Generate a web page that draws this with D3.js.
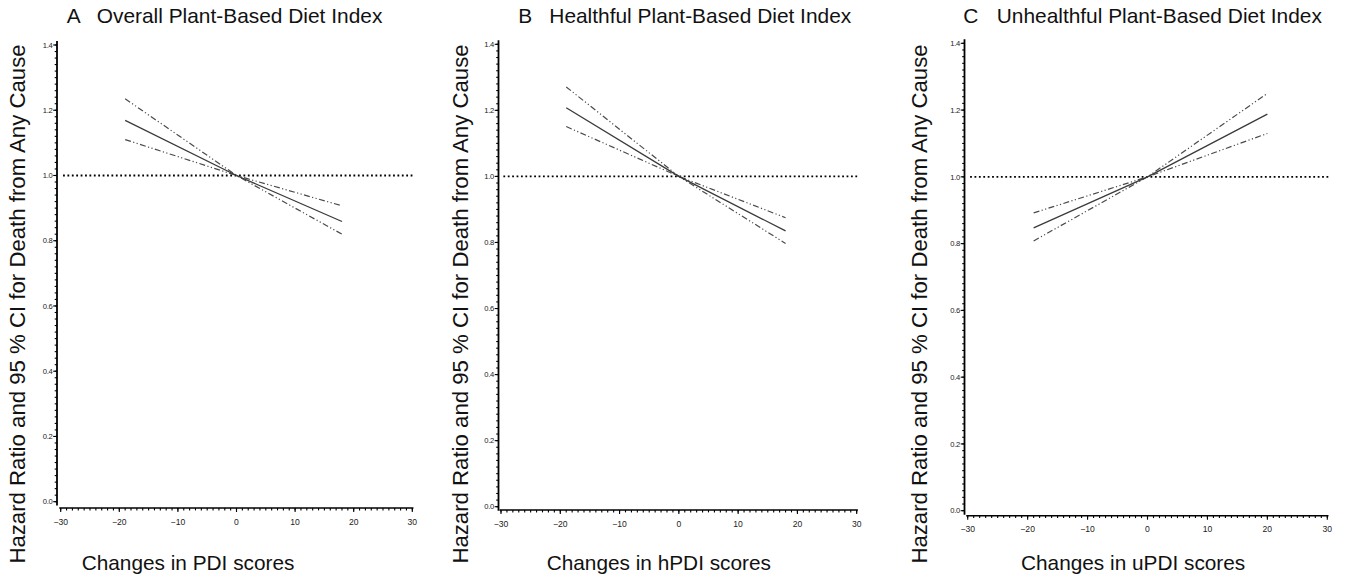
<!DOCTYPE html>
<html>
<head>
<meta charset="utf-8">
<script src="https://cdn.jsdelivr.net/npm/d3@7"></script>
<style>
  body { margin: 0; background: #fff; }
  svg { display: block; font-family: "Liberation Sans", Arial, Helvetica, sans-serif; }
</style>
</head>
<body>
<div id="chart"></div>
<script>
// Panel titles and axis captions
var panelLetters = ['A', 'B', 'C'];
var panelTitles = ['Overall Plant-Based Diet Index', 'Healthful Plant-Based Diet Index', 'Unhealthful Plant-Based Diet Index'];
var xLabels = ['Changes in PDI scores', 'Changes in hPDI scores', 'Changes in uPDI scores'];
var yLabel = 'Hazard Ratio and 95 % CI for Death from Any Cause';

// Tick values
var xTicks = [-30, -20, -10, 0, 10, 20, 30];
var yTicks = [0.0, 0.2, 0.4, 0.6, 0.8, 1.0, 1.2, 1.4];

// Score change (x) for each panel
var xPDI = [-19, 0, 18];
var xHPDI = [-19, 0, 18];
var xUPDI = [-19, 0, 20];

// Hazard ratio and the two confidence limits
var hrPDI = [1.169, 1.0, 0.859];
var ciAPDI = [1.235, 1.0, 0.820];
var ciBPDI = [1.110, 1.0, 0.907];

var hrHPDI = [1.208, 1.0, 0.835];
var ciAHPDI = [1.271, 1.0, 0.797];
var ciBHPDI = [1.151, 1.0, 0.875];

var hrUPDI = [0.847, 1.0, 1.188];
var ciAUPDI = [0.808, 1.0, 1.250];
var ciBUPDI = [0.892, 1.0, 1.130];

var panelData = [
  { x: xPDI, hr: hrPDI, ci: [ciAPDI, ciBPDI] },
  { x: xHPDI, hr: hrHPDI, ci: [ciAHPDI, ciBHPDI] },
  { x: xUPDI, hr: hrUPDI, ci: [ciAUPDI, ciBUPDI] }
];

// Where each panel sits on the page
var layout = [
  { axisX: 57,    xr: [60.7, 412.3],  yr: [501.7, 45],   baseY: 508,   yLabX: 25,    letterX: 66.7,  titleX: 96.7,  xLabX: 81.7 },
  { axisX: 498.5, xr: [501, 856.7],   yr: [506.7, 44.3], baseY: 510,   yLabX: 468.3, letterX: 518.3, titleX: 549.3, xLabX: 546.7 },
  { axisX: 964.5, xr: [967.7, 1327.3], yr: [510.7, 43.3], baseY: 515.7, yLabX: 926.7, letterX: 963.3, titleX: 996.7, xLabX: 1021 }
];

var W = 1345, H = 581;

var svg = d3.select('#chart').append('svg')
  .attr('width', W)
  .attr('height', H);

panelData.forEach(function (pd, i) {
  var L = layout[i];
  var g = svg.append('g');

  var x = d3.scaleLinear().domain([-30, 30]).range(L.xr);
  var y = d3.scaleLinear().domain([0, 1.4]).range(L.yr);

  // title
  g.append('text')
    .attr('x', L.letterX).attr('y', 22.7)
    .attr('font-size', 20.9).attr('fill', '#111')
    .text(panelLetters[i]);
  g.append('text')
    .attr('x', L.titleX).attr('y', 22.7)
    .attr('font-size', 20.9).attr('fill', '#111')
    .text(panelTitles[i]);

  // y axis caption
  g.append('text')
    .attr('transform', 'translate(' + L.yLabX + ',304) rotate(-90)')
    .attr('text-anchor', 'middle')
    .attr('font-size', 22.2).attr('fill', '#111')
    .text(yLabel);

  // x axis caption
  g.append('text')
    .attr('x', L.xLabX).attr('y', 570)
    .attr('font-size', 20.8).attr('fill', '#111')
    .text(xLabels[i]);

  // y axis: line, minor ticks every 0.02, major ticks with labels
  var yAx = g.append('g').attr('transform', 'translate(' + L.axisX + ',0)');
  yAx.append('line')
    .attr('x1', 0).attr('x2', 0)
    .attr('y1', y(1.412)).attr('y2', y(-0.012))
    .attr('stroke', '#000').attr('stroke-width', 1.8);
  yAx.selectAll('line.minor')
    .data(d3.range(0, 71).map(function (k) { return k * 0.02; }))
    .enter().append('line')
    .attr('class', 'minor')
    .attr('x1', -2.3).attr('x2', 0)
    .attr('y1', function (d) { return y(d); })
    .attr('y2', function (d) { return y(d); })
    .attr('stroke', '#000').attr('stroke-width', 1.1);
  yAx.selectAll('line.major')
    .data(yTicks)
    .enter().append('line')
    .attr('class', 'major')
    .attr('x1', -3.8).attr('x2', 0)
    .attr('y1', function (d) { return y(d); })
    .attr('y2', function (d) { return y(d); })
    .attr('stroke', '#000').attr('stroke-width', 1.1);
  yAx.selectAll('text')
    .data(yTicks)
    .enter().append('text')
    .attr('x', -4.6)
    .attr('y', function (d) { return y(d); })
    .attr('dy', '0.35em')
    .attr('text-anchor', 'end')
    .attr('font-size', 7.6)
    .attr('letter-spacing', -0.3)
    .attr('fill', '#222')
    .text(function (d) { return d3.format('.1f')(d); });

  // x axis: line, minor ticks every 1, major ticks with labels
  var xAx = g.append('g').attr('transform', 'translate(0,' + L.baseY + ')');
  xAx.append('line')
    .attr('x1', x(-30.25)).attr('x2', x(30.2))
    .attr('y1', 0).attr('y2', 0)
    .attr('stroke', '#000').attr('stroke-width', 1.6);
  xAx.selectAll('line.minor')
    .data(d3.range(-30, 31))
    .enter().append('line')
    .attr('class', 'minor')
    .attr('x1', function (d) { return x(d); })
    .attr('x2', function (d) { return x(d); })
    .attr('y1', 0).attr('y2', 2.4)
    .attr('stroke', '#000').attr('stroke-width', 1.1);
  xAx.selectAll('line.major')
    .data(xTicks)
    .enter().append('line')
    .attr('class', 'major')
    .attr('x1', function (d) { return x(d); })
    .attr('x2', function (d) { return x(d); })
    .attr('y1', 0).attr('y2', 4)
    .attr('stroke', '#000').attr('stroke-width', 1.1);
  xAx.selectAll('text')
    .data(xTicks)
    .enter().append('text')
    .attr('x', function (d) { return x(d); })
    .attr('y', 16.5)
    .attr('text-anchor', 'middle')
    .attr('font-size', 8.6)
    .attr('fill', '#222')
    .text(function (d) { return d < 0 ? '\u2212' + Math.abs(d) : String(d); });

  // reference line at HR = 1
  g.append('line')
    .attr('x1', x(-29.6)).attr('x2', x(30.4))
    .attr('y1', y(1)).attr('y2', y(1))
    .attr('stroke', '#000')
    .attr('stroke-width', 1.8)
    .attr('stroke-dasharray', '1.8,2.6');

  var line = d3.line()
    .x(function (d) { return x(d[0]); })
    .y(function (d) { return y(d[1]); });

  // confidence limits (dash-dot-dot)
  pd.ci.forEach(function (c) {
    g.append('path')
      .datum(pd.x.map(function (v, k) { return [v, c[k]]; }))
      .attr('d', line)
      .attr('fill', 'none')
      .attr('stroke', '#4a4a4a')
      .attr('stroke-width', 1.2)
      .attr('stroke-dasharray', '6,2.4,1.2,2.4,1.2,2.4');
  });

  // hazard ratio
  g.append('path')
    .datum(pd.x.map(function (v, k) { return [v, pd.hr[k]]; }))
    .attr('d', line)
    .attr('fill', 'none')
    .attr('stroke', '#3a3a3a')
    .attr('stroke-width', 1.3);
});
</script>
</body>
</html>
